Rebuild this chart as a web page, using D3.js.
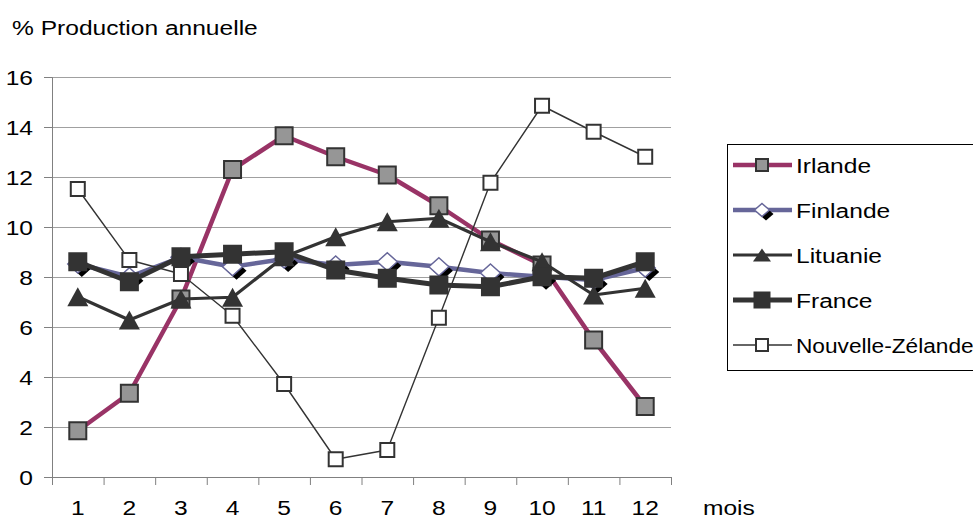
<!DOCTYPE html>
<html>
<head>
<meta charset="utf-8">
<script src="https://cdn.jsdelivr.net/npm/d3@7/dist/d3.min.js"></script>
<style>
  html, body { margin: 0; padding: 0; background: #fff; }
  svg { display: block; }
  text { font-family: "Liberation Sans", Arial, sans-serif; fill: #000; }
</style>
</head>
<body>
<svg id="chart" width="973" height="520"></svg>
<script>
// ---- Data ----
const months = [1, 2, 3, 4, 5, 6, 7, 8, 9, 10, 11, 12];
const yTicks = [0, 2, 4, 6, 8, 10, 12, 14, 16];
const irlande   = [1.85, 3.35, 7.12, 12.3, 13.65, 12.81, 12.08, 10.85, 9.48, 8.48, 5.48, 2.82];
const finlande  = [8.52, 8.01, 8.79, 8.41, 8.72, 8.48, 8.61, 8.41, 8.16, 8.01, 7.88, 8.36];
const lituanie  = [7.21, 6.28, 7.12, 7.19, 8.81, 9.61, 10.21, 10.35, 9.41, 8.61, 7.28, 7.55];
const france    = [8.61, 7.81, 8.81, 8.91, 9.01, 8.28, 7.95, 7.68, 7.61, 8.01, 7.95, 8.61];
const nzelande  = [11.52, 8.68, 8.12, 6.45, 3.72, 0.71, 1.08, 6.37, 11.77, 14.85, 13.81, 12.81];
const seriesNames = ["Irlande", "Finlande", "Lituanie", "France", "Nouvelle-Zélande"];
const yTitle = "% Production annuelle";
const xTitle = "mois";

// ---- Setup ----
const FS = 21, SX = 1.17;
const svg = d3.select("#chart");
const L = 52, R = 671, T = 77, B = 477;
const x = d3.scaleBand().domain(months).range([L, R]);
const xl = d3.scaleLinear().domain([0.5, 12.5]).range([L, R]);
const y = d3.scaleLinear().domain([0, 16]).range([B, T]);
const cx = m => x(m) + x.bandwidth() / 2;

// gridlines
svg.append("g").selectAll("line").data(yTicks.filter(v => v > 0)).join("line")
  .attr("x1", L).attr("x2", R).attr("y1", d => y(d)).attr("y2", d => y(d))
  .attr("stroke", "#a0a0a0").attr("stroke-width", 1).attr("shape-rendering", "crispEdges");

// y axis
const ya = svg.append("g").attr("transform", `translate(${L},0)`)
  .call(d3.axisLeft(y).tickValues(yTicks).tickSize(8).tickPadding(11));
ya.select(".domain").attr("stroke", "#808080");
ya.selectAll(".tick line").attr("stroke", "#808080");
ya.selectAll(".tick text").attr("font-size", FS).attr("font-family", "Liberation Sans, Arial, sans-serif")
  .attr("fill", "#000").attr("dy", "0.36em")
  .attr("x", -19 / SX).attr("transform", `scale(${SX},1)`);

// x axis ticks at boundaries
const xa = svg.append("g").attr("transform", `translate(0,${B})`)
  .call(d3.axisBottom(xl).tickValues(d3.range(0.5, 13, 1)).tickSize(8).tickFormat(""));
xa.select(".domain").attr("stroke", "#808080");
xa.selectAll(".tick line").attr("stroke", "#808080");
// x labels
const xlab = svg.append("g").attr("transform", `translate(0,${B})`)
  .call(d3.axisBottom(x).tickSize(0).tickPadding(23));
xlab.select(".domain").remove();
xlab.selectAll(".tick text").attr("font-size", FS).attr("font-family", "Liberation Sans, Arial, sans-serif")
  .attr("fill", "#000").attr("transform", `scale(${SX},1)`);

// titles
svg.append("text").attr("transform", `translate(12,35) scale(${SX},1)`).attr("font-size", FS).text(yTitle);
svg.append("text").attr("transform", `translate(703,515) scale(${SX},1)`).attr("font-size", FS).text(xTitle);

// ---- Marker shapes ----
const mk = {
  irl: (g, s) => g.append("rect").attr("x", -s/2).attr("y", -s/2).attr("width", s).attr("height", s)
          .attr("fill", "#969696").attr("stroke", "#333").attr("stroke-width", 2),
  fin: (g, w, h) => {
    g.append("path").attr("d", `M0,${-h}L${w},0L0,${h}L${-w},0Z`).attr("transform", "translate(4,4)")
      .attr("fill", "#000");
    g.append("path").attr("d", `M0,${-h}L${w},0L0,${h}L${-w},0Z`)
      .attr("fill", "#fff").attr("stroke", "#666699").attr("stroke-width", 1.5);
  },
  lit: (g, w, h) => g.append("path").attr("d", `M0,${-h/2}L${w/2},${h/2}L${-w/2},${h/2}Z`).attr("fill", "#333"),
  fra: (g, s) => g.append("rect").attr("x", -s/2).attr("y", -s/2).attr("width", s).attr("height", s).attr("fill", "#333"),
  nz: (g, s) => g.append("rect").attr("x", -s/2).attr("y", -s/2).attr("width", s).attr("height", s)
          .attr("fill", "#fff").attr("stroke", "#333").attr("stroke-width", 2)
};

const series = [
  { name: seriesNames[0], data: irlande,  color: "#993366", w: 4.5, m: g => mk.irl(g, 17), lm: g => mk.irl(g, 12) },
  { name: seriesNames[1], data: finlande, color: "#666699", w: 4.5, m: g => mk.fin(g, 10, 9), lm: g => mk.fin(g, 7.5, 6.5) },
  { name: seriesNames[2], data: lituanie, color: "#333333", w: 3.2, m: g => mk.lit(g, 21, 19), lm: g => mk.lit(g, 18, 13) },
  { name: seriesNames[3], data: france,   color: "#333333", w: 5,   m: g => mk.fra(g, 19), lm: g => mk.fra(g, 17) },
  { name: seriesNames[4], data: nzelande, color: "#333333", w: 1.4, m: g => mk.nz(g, 14), lm: g => mk.nz(g, 12) }
];

const line = d3.line().x((d, i) => cx(months[i])).y(d => y(d));
series.forEach(s => {
  const g = svg.append("g");
  g.append("path").attr("d", line(s.data)).attr("fill", "none").attr("stroke", s.color)
    .attr("stroke-width", s.w).attr("stroke-linejoin", "round");
  s.data.forEach((v, i) => {
    const mg = g.append("g").attr("transform", `translate(${cx(months[i])},${y(v)})`);
    s.m(mg);
  });
});

// ---- Legend ----
const lg = svg.append("g");
lg.append("rect").attr("x", 727.5).attr("y", 144.5).attr("width", 280).attr("height", 226)
  .attr("fill", "#fff").attr("stroke", "#000").attr("stroke-width", 1);
series.forEach((s, i) => {
  const ry = 165 + i * 45;
  lg.append("line").attr("x1", 733).attr("x2", 792).attr("y1", ry).attr("y2", ry)
    .attr("stroke", s.color).attr("stroke-width", s.w);
  s.lm(lg.append("g").attr("transform", `translate(762,${ry})`));
  const sx = i === 4 ? 1.08 : SX;
  lg.append("text").attr("transform", `translate(796,${ry}) scale(${sx},1)`).attr("dy", "0.36em")
    .attr("font-size", FS).text(s.name);
});
</script>
</body>
</html>
